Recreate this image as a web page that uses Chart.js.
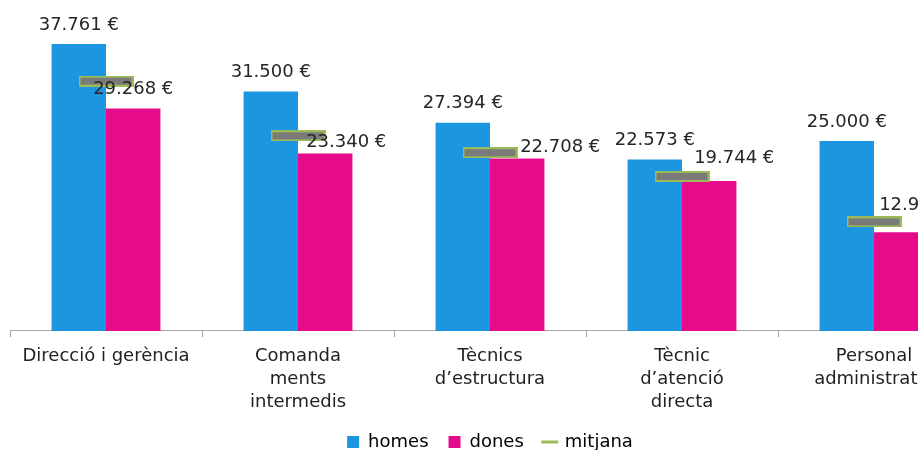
<!DOCTYPE html>
<html><head><meta charset="utf-8">
<script src="https://cdn.jsdelivr.net/npm/chart.js@4.4.0/dist/chart.umd.min.js"></script>
<style>
html,body{margin:0;padding:0;background:#fff;overflow:hidden;width:918px;height:450px;}
#wrap{position:absolute;left:0;top:0;width:986px;height:461px;}
</style></head><body>
<div id="wrap"><canvas id="c" width="986" height="461"></canvas></div>
<script>
const categories = [["Direcció i gerència"],["Comanda","ments","intermedis"],["Tècnics","d’estructura"],["Tècnic","d’atenció","directa"],["Personal","administratiu"]];
const homes = [37761, 31500, 27394, 22573, 25000];
const dones = [29268, 23340, 22708, 19744, 12977];
const mitjana = [32870, 25680, 23460, 20330, 14350];
const seriesNames = ["homes", "dones", "mitjana"];

// label offsets (style): [dx, dy] relative to default position above each bar
const labelShift = [
  [[0,0],[0,0],[0,0],[0,0],[0,0]],
  [[0,0],[21,7.5],[43,7.7],[25,-3.4],[18,-7.7]]
];

const COL_H = '#1C96E0', COL_D = '#E50B8B', COL_M = '#7A7A7A', COL_MB = '#9BBB59';

function markerImage(){
  const c = document.createElement('canvas');
  c.width = 55; c.height = 11;
  const g = c.getContext('2d');
  g.fillStyle = COL_M; g.fillRect(1,1,53,9);
  g.strokeStyle = COL_MB; g.lineWidth = 2; g.strokeRect(1,1,53,9);
  return c;
}
const marker = markerImage();

function fmt(v){ return String(v).replace(/\B(?=(\d{3})+(?!\d))/g,'.') + ' €'; }

const labelPlugin = {
  id:'valueLabels',
  afterDatasetsDraw(chart){
    const ctx = chart.ctx;
    ctx.save();
    ctx.font = '18px "DejaVu Sans"';
    ctx.fillStyle = '#262626';
    ctx.textAlign = 'center'; ctx.textBaseline = 'middle';
    [0,1].forEach(di => {
      const meta = chart.getDatasetMeta(di);
      meta.data.forEach((bar,i) => {
        const v = chart.data.datasets[di].data[i];
        const sh = labelShift[di][i];
        ctx.fillText(fmt(v), bar.x + sh[0], bar.y - 19 + sh[1]);
      });
    });
    ctx.restore();
  }
};

Chart.defaults.font.family = '"DejaVu Sans"';
Chart.defaults.font.size = 18;
Chart.defaults.color = '#222';

new Chart(document.getElementById('c'), {
  data: {
    labels: categories,
    datasets: [
      {type:'bar', label: seriesNames[0], data: homes, backgroundColor: COL_H, order: 1,
       categoryPercentage: 0.567, barPercentage: 1},
      {type:'bar', label: seriesNames[1], data: dones, backgroundColor: COL_D, order: 1,
       categoryPercentage: 0.567, barPercentage: 1},
      {type:'line', label: seriesNames[2], data: mitjana, showLine: false, order: 0,
       pointStyle: marker, pointRadius: 6, borderColor: COL_MB, backgroundColor: COL_M}
    ]
  },
  options: {
    responsive: false,
    animation: false,
    layout: {padding: {top: 27, left: 10, right: 16, bottom: 0}},
    scales: {
      x: {
        grid: {display: true, drawOnChartArea: false, drawTicks: true, tickLength: 6, color: '#A6A6A6', offset: true},
        border: {display: true, color: '#A6A6A6'},
        ticks: {padding: 8, maxRotation: 0, autoSkip: false, font: {size: 18, lineHeight: 1.278}, color: '#222'},
        afterFit(scale){ scale.height -= 9; }
      },
      y: {display: false, min: 0, max: 40000}
    },
    plugins: {
      tooltip: {enabled: false},
      legend: {
        position: 'bottom',
        labels: {
          usePointStyle: true, boxWidth: 12, boxHeight: 12, padding: 20,
          font: {size: 18}, color: '#222',
          generateLabels(chart){
            return chart.data.datasets.map((ds, i) => ({
              text: ds.label,
              fillStyle: i === 2 ? COL_MB : ds.backgroundColor,
              strokeStyle: i === 2 ? COL_MB : ds.backgroundColor,
              lineWidth: i === 2 ? 3 : 0,
              pointStyle: i === 2 ? 'line' : 'rect',
              hidden: false,
              datasetIndex: i
            }));
          }
        }
      }
    }
  },
  plugins: [labelPlugin]
});
</script>
</body></html>
